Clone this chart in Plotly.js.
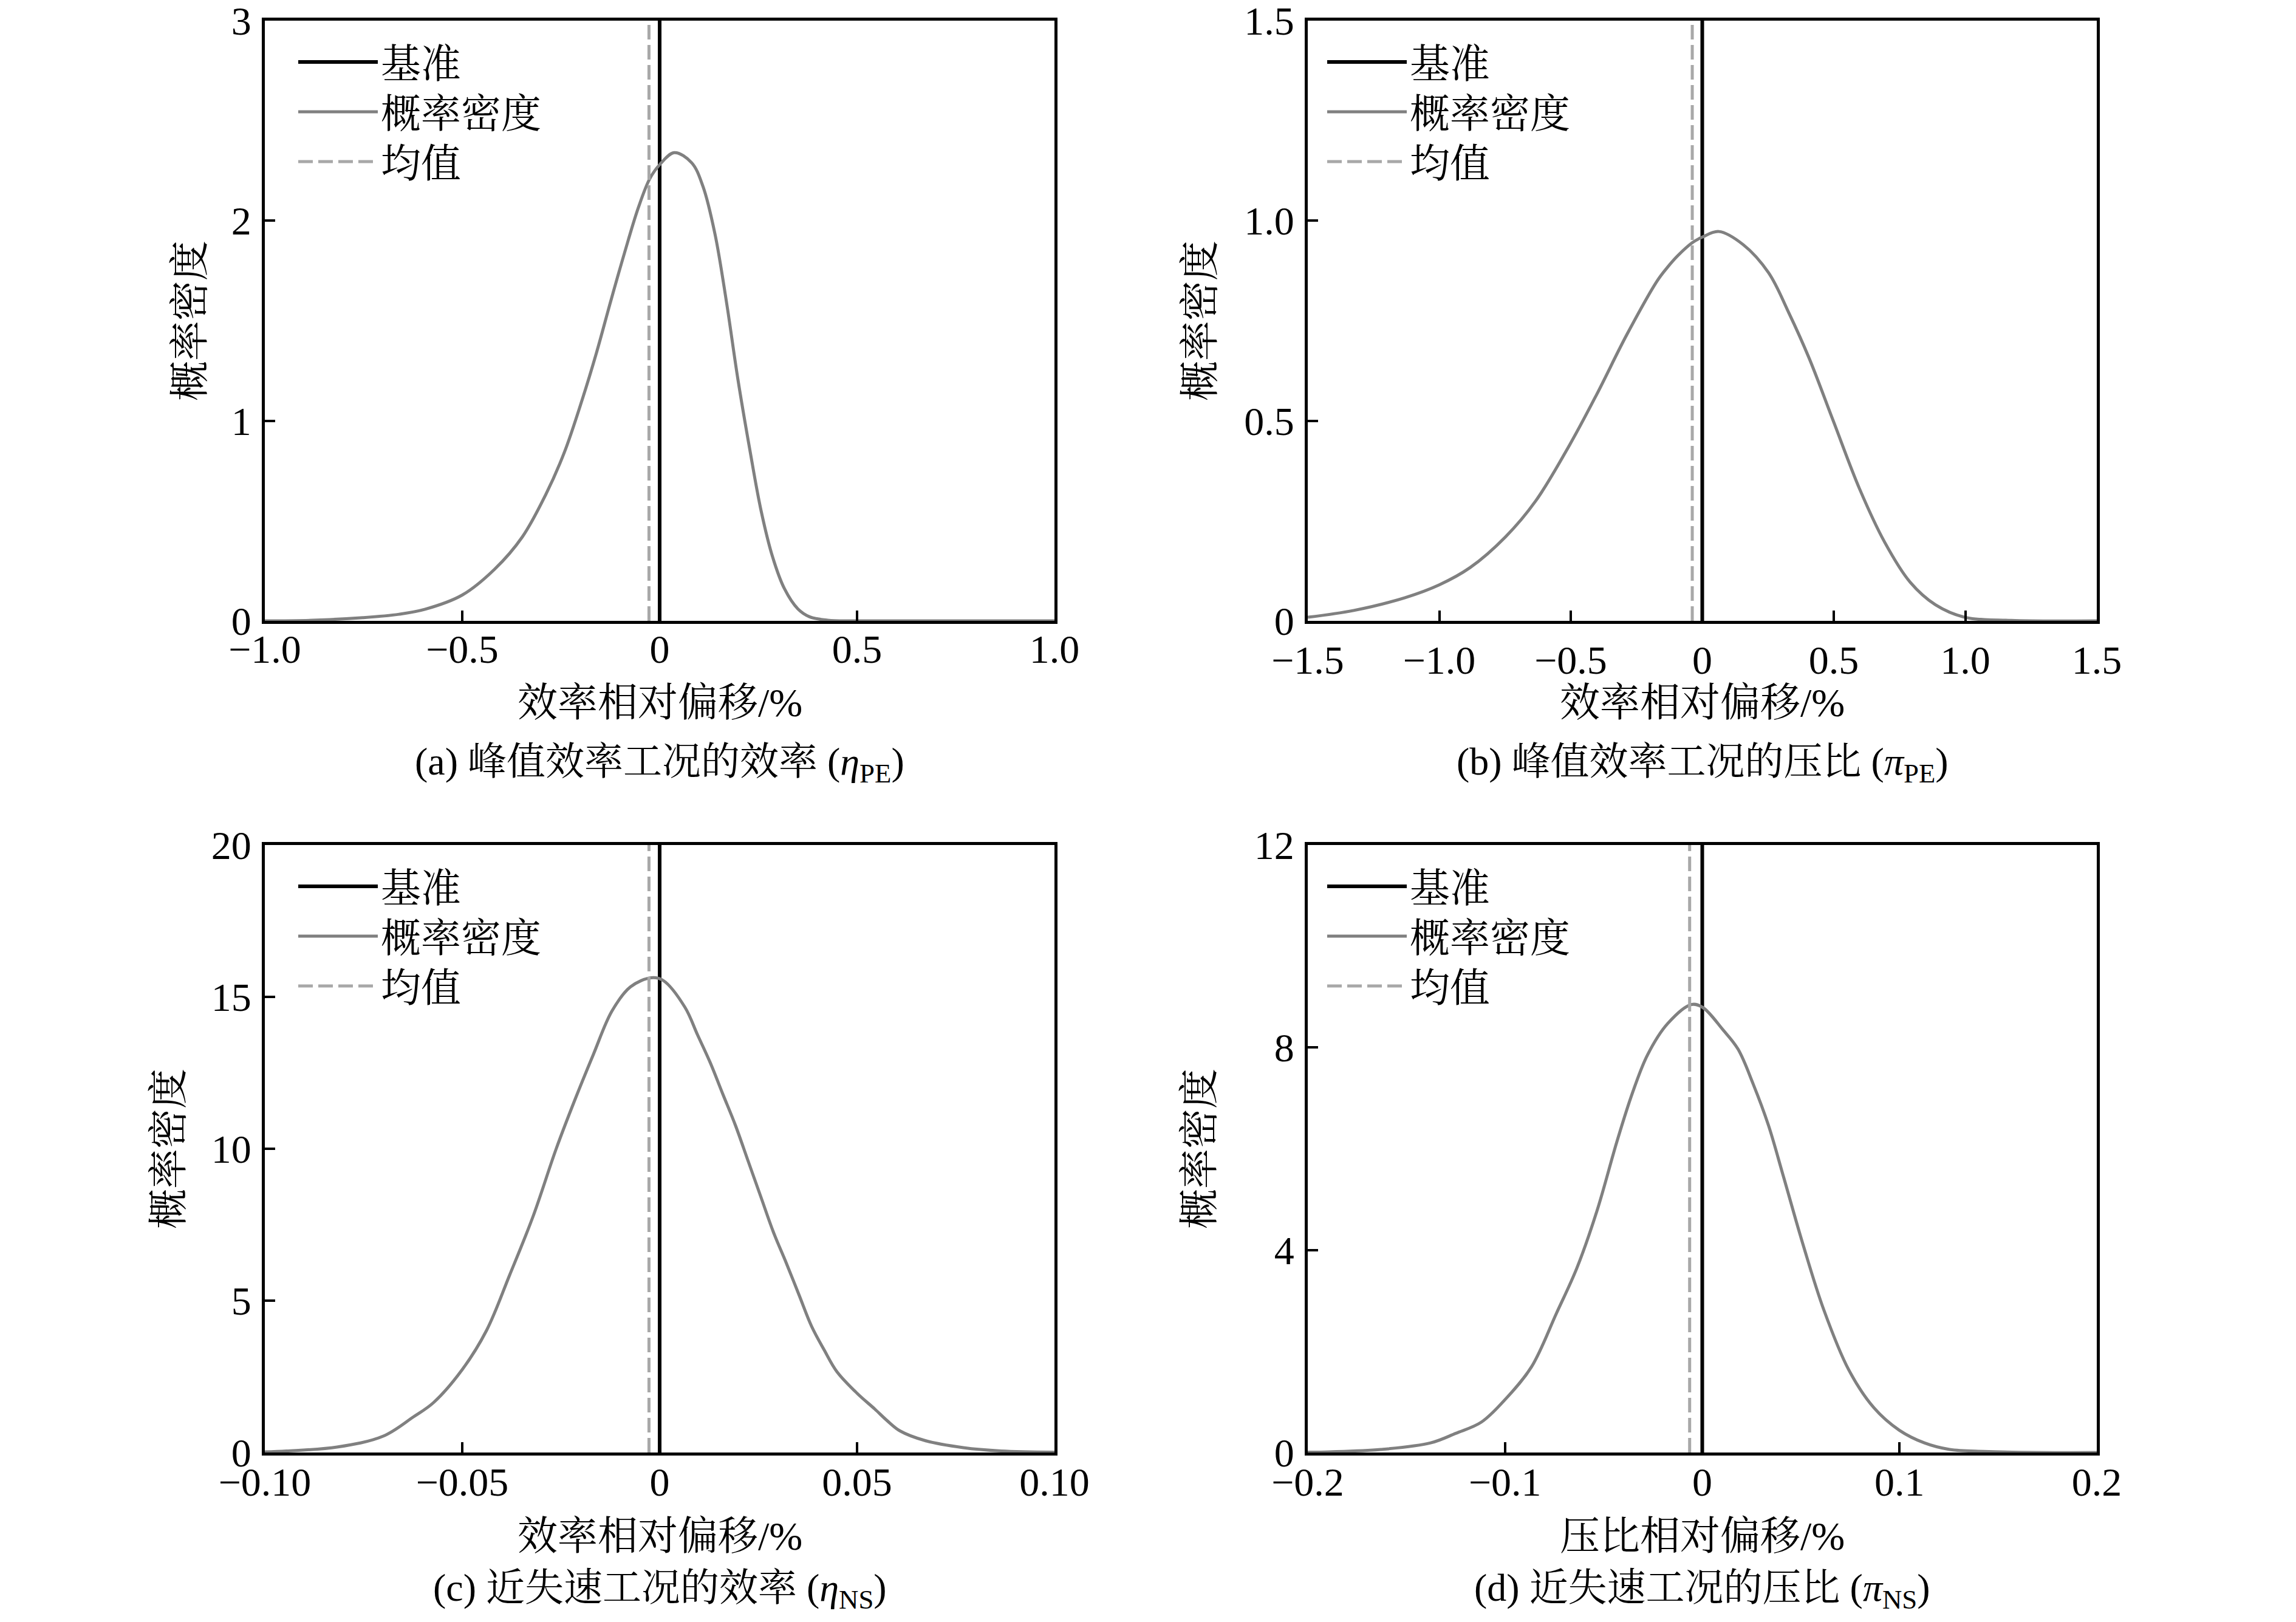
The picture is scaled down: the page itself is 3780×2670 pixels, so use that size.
<!DOCTYPE html>
<html>
<head>
<meta charset="utf-8">
<script src="https://cdn.plot.ly/plotly-3.0.1.min.js"></script>
<style>
  html, body { margin: 0; padding: 0; background: #fff; }
</style>
</head>
<body>
<div id="chart" style="width:3780px;height:2670px"></div>
<script>
// (a) peak-efficiency point, efficiency
const xA = [-1.0, -0.88, -0.752, -0.66, -0.594, -0.5, -0.418, -0.348, -0.289, -0.242, -0.195, -0.16, -0.124, -0.089, -0.054, -0.025, 0, 0.037, 0.081, 0.11, 0.14, 0.169, 0.198, 0.228, 0.257, 0.286, 0.316, 0.35, 0.38, 0.426, 0.5, 1.0];
const yA = [0, 0.003, 0.016, 0.033, 0.058, 0.129, 0.258, 0.419, 0.629, 0.839, 1.113, 1.34, 1.597, 1.839, 2.065, 2.21, 2.28, 2.34, 2.29, 2.17, 1.935, 1.597, 1.21, 0.86, 0.55, 0.32, 0.161, 0.06, 0.02, 0.003, 0, 0];
const meanA = -0.027;

// (b) peak-efficiency point, pressure ratio
const xB = [-1.5, -1.325, -1.13, -1.0, -0.883, -0.748, -0.633, -0.504, -0.402, -0.287, -0.171, -0.133, -0.094, -0.038, 0, 0.063, 0.156, 0.252, 0.329, 0.406, 0.498, 0.598, 0.694, 0.79, 0.887, 0.998, 1.175, 1.5];
const yB = [0.009, 0.026, 0.058, 0.09, 0.133, 0.21, 0.30, 0.44, 0.565, 0.715, 0.85, 0.883, 0.912, 0.945, 0.959, 0.973, 0.94, 0.87, 0.77, 0.657, 0.50, 0.33, 0.196, 0.097, 0.04, 0.009, 0.001, 0];
const meanB = -0.038;

// (c) near-stall point, efficiency
const xC = [-0.1, -0.0945, -0.0817, -0.070, -0.0624, -0.0573, -0.05, -0.0438, -0.038, -0.0321, -0.0262, -0.0215, -0.0168, -0.0121, -0.0074, -0.0021, 0.0009, 0.0064, 0.0096, 0.0128, 0.016, 0.0192, 0.0224, 0.0256, 0.0288, 0.0321, 0.0353, 0.0385, 0.0417, 0.0449, 0.05, 0.0545, 0.0577, 0.0609, 0.0673, 0.0769, 0.0865, 0.1];
const yC = [0.02, 0.05, 0.18, 0.54, 1.17, 1.64, 2.73, 4.03, 5.84, 7.76, 10.0, 11.6, 13.1, 14.53, 15.33, 15.63, 15.54, 14.66, 13.75, 12.84, 11.8, 10.77, 9.6, 8.43, 7.26, 6.23, 5.19, 4.15, 3.37, 2.66, 1.95, 1.43, 1.04, 0.71, 0.39, 0.16, 0.05, 0.01];
const meanC = -0.0027;

// (d) near-stall point, pressure ratio
const xD = [-0.2, -0.189, -0.163, -0.1377, -0.1249, -0.112, -0.0994, -0.0866, -0.0738, -0.0636, -0.0534, -0.0432, -0.0355, -0.0278, -0.0176, -0.0054, 0.0003, 0.0105, 0.0181, 0.0258, 0.0335, 0.0411, 0.0513, 0.0616, 0.0743, 0.0871, 0.0999, 0.1126, 0.1254, 0.143, 0.17, 0.2];
const yD = [0.005, 0.013, 0.06, 0.19, 0.38, 0.6, 1.07, 1.69, 2.76, 3.64, 4.77, 6.15, 7.09, 7.85, 8.47, 8.85, 8.79, 8.35, 7.97, 7.28, 6.47, 5.46, 4.08, 2.82, 1.63, 0.88, 0.44, 0.19, 0.06, 0.02, 0, 0];
const meanD = -0.0064;

// axis ticks
const xTicksA = [-1, -0.5, 0, 0.5, 1];
const xLabelsA = ['\u22121.0', '\u22120.5', '0', '0.5', '1.0'];
const yTicksA = [0, 1, 2, 3];
const yLabelsA = ['0', '1', '2', '3'];
const xTicksB = [-1.5, -1, -0.5, 0, 0.5, 1, 1.5];
const xLabelsB = ['\u22121.5', '\u22121.0', '\u22120.5', '0', '0.5', '1.0', '1.5'];
const yTicksB = [0, 0.5, 1, 1.5];
const yLabelsB = ['0', '0.5', '1.0', '1.5'];
const xTicksC = [-0.1, -0.05, 0, 0.05, 0.1];
const xLabelsC = ['\u22120.10', '\u22120.05', '0', '0.05', '0.10'];
const yTicksC = [0, 5, 10, 15, 20];
const yLabelsC = ['0', '5', '10', '15', '20'];
const xTicksD = [-0.2, -0.1, 0, 0.1, 0.2];
const xLabelsD = ['\u22120.2', '\u22120.1', '0', '0.1', '0.2'];
const yTicksD = [0, 4, 8, 12];
const yLabelsD = ['0', '4', '8', '12'];

const xTitles = ['效率相对偏移/%', '效率相对偏移/%', '效率相对偏移/%', '压比相对偏移/%'];
const yTitle = '概率密度';
const captions = [
    '(a) 峰值效率工况的效率 (<i>η</i><sub>PE</sub>)',
    '(b) 峰值效率工况的压比 (<i>π</i><sub>PE</sub>)',
    '(c) 近失速工况的效率 (<i>η</i><sub>NS</sub>)',
    '(d) 近失速工况的压比 (<i>π</i><sub>NS</sub>)'
];
const legendNames = ['基准', '概率密度', '均值'];

const FONT = '"Liberation Serif", "Times New Roman", "Noto Serif CJK SC", "Noto Sans CJK SC", serif';
const W = 3780, H = 2670;

// panel boxes in pixels: left, right, top, bottom
const boxes = [
    [436, 1736, 34, 1022],
    [2153, 3452, 34, 1022],
    [436, 1736, 1391, 2391],
    [2153, 3452, 1391, 2391]
];
// text rows in pixels: x-title y, caption y, y-title x
const textPos = [
    [1156, 1258, 312],
    [1156, 1258, 1975],
    [2528, 2618, 278],
    [2528, 2618, 1975]
];
// legend rows: offsets below the panel top, in pixels
const legendRows = [68, 150, 232];

const panels = [
    {x: xA, y: yA, mean: meanA, xr: [-1, 1], yr: [0, 3], xt: xTicksA, xl: xLabelsA, yt: yTicksA, yl: yLabelsA, xStand: -15, legDx: 50},
    {x: xB, y: yB, mean: meanB, xr: [-1.5, 1.5], yr: [0, 1.5], xt: xTicksB, xl: xLabelsB, yt: yTicksB, yl: yLabelsB, xStand: 3, legDx: 27},
    {x: xC, y: yC, mean: meanC, xr: [-0.1, 0.1], yr: [0, 20], xt: xTicksC, xl: xLabelsC, yt: yTicksC, yl: yLabelsC, xStand: -13, legDx: 50},
    {x: xD, y: yD, mean: meanD, xr: [-0.2, 0.2], yr: [0, 12], xt: xTicksD, xl: xLabelsD, yt: yTicksD, yl: yLabelsD, xStand: -13, legDx: 27}
];

let traces = [];
let layout = {
    width: W,
    height: H,
    margin: {l: 0, r: 0, t: 0, b: 0},
    paper_bgcolor: '#ffffff',
    plot_bgcolor: '#ffffff',
    font: {family: FONT, size: 66, color: '#000'},
    showlegend: true,
    annotations: []
};

let legendCount = 0;
function nextLegend(xd, b, row, dx) {
    let name = legendCount === 0 ? 'legend' : 'legend' + (legendCount + 1);
    legendCount++;
    layout[name] = {
        x: xd[0] + dx / W, y: 1 - (b[2] + legendRows[row]) / H,
        xanchor: 'left', yanchor: 'middle',
        bgcolor: 'rgba(0,0,0,0)', borderwidth: 0,
        font: {family: FONT, size: 66, color: '#000'},
        itemwidth: 131
    };
    return name;
}

panels.forEach(function (p, i) {
    let n = i === 0 ? '' : String(i + 1);
    let b = boxes[i];
    let xd = [b[0] / W, b[1] / W];
    let yd = [1 - b[3] / H, 1 - b[2] / H];
    let tp = textPos[i];

    traces.push({
        x: [0, 0], y: p.yr, xaxis: 'x' + n, yaxis: 'y' + n,
        mode: 'lines', name: legendNames[0], legend: nextLegend(xd, b, 0, p.legDx),
        line: {color: '#000000', width: 6}
    });
    traces.push({
        x: p.x, y: p.y, xaxis: 'x' + n, yaxis: 'y' + n,
        mode: 'lines', name: legendNames[1], legend: nextLegend(xd, b, 1, p.legDx),
        line: {color: '#808080', width: 5, shape: 'spline', smoothing: 1}
    });
    traces.push({
        x: [p.mean, p.mean], y: p.yr, xaxis: 'x' + n, yaxis: 'y' + n,
        mode: 'lines', name: legendNames[2], legend: nextLegend(xd, b, 2, p.legDx),
        line: {color: '#a8a8a8', width: 5, dash: '24px,9px'}
    });

    let common = {
        showline: true, linecolor: '#000', linewidth: 5, mirror: true,
        ticks: 'inside', ticklen: 17, tickwidth: 4, tickcolor: '#000',
        showgrid: false, zeroline: false, tickmode: 'array',
        ticklabeloverflow: 'allow',
        tickfont: {family: FONT, size: 66, color: '#000'}
    };

    layout['xaxis' + n] = Object.assign({}, common, {
        domain: xd, anchor: 'y' + n, range: p.xr,
        tickvals: p.xt, ticktext: p.xl, ticklabelstandoff: p.xStand
    });
    layout['yaxis' + n] = Object.assign({}, common, {
        domain: yd, anchor: 'x' + n, range: p.yr,
        tickvals: p.yt, ticktext: p.yl, ticklabelstandoff: 4
    });

    // x-axis title
    layout.annotations.push({
        text: xTitles[i], xref: 'paper', yref: 'paper',
        x: (xd[0] + xd[1]) / 2, y: 1 - tp[0] / H,
        xanchor: 'center', yanchor: 'middle', showarrow: false,
        font: {family: FONT, size: 66, color: '#000'}
    });
    // y-axis title
    layout.annotations.push({
        text: yTitle, xref: 'paper', yref: 'paper', textangle: -90,
        x: tp[2] / W, y: (yd[0] + yd[1]) / 2,
        xanchor: 'center', yanchor: 'middle', showarrow: false,
        font: {family: FONT, size: 66, color: '#000'}
    });
    // caption
    layout.annotations.push({
        text: captions[i], xref: 'paper', yref: 'paper',
        x: (xd[0] + xd[1]) / 2, y: 1 - tp[1] / H,
        xanchor: 'center', yanchor: 'middle', showarrow: false,
        font: {family: FONT, size: 64, color: '#000'}
    });
});

Plotly.newPlot('chart', traces, layout, {staticPlot: true});
</script>
</body>
</html>
